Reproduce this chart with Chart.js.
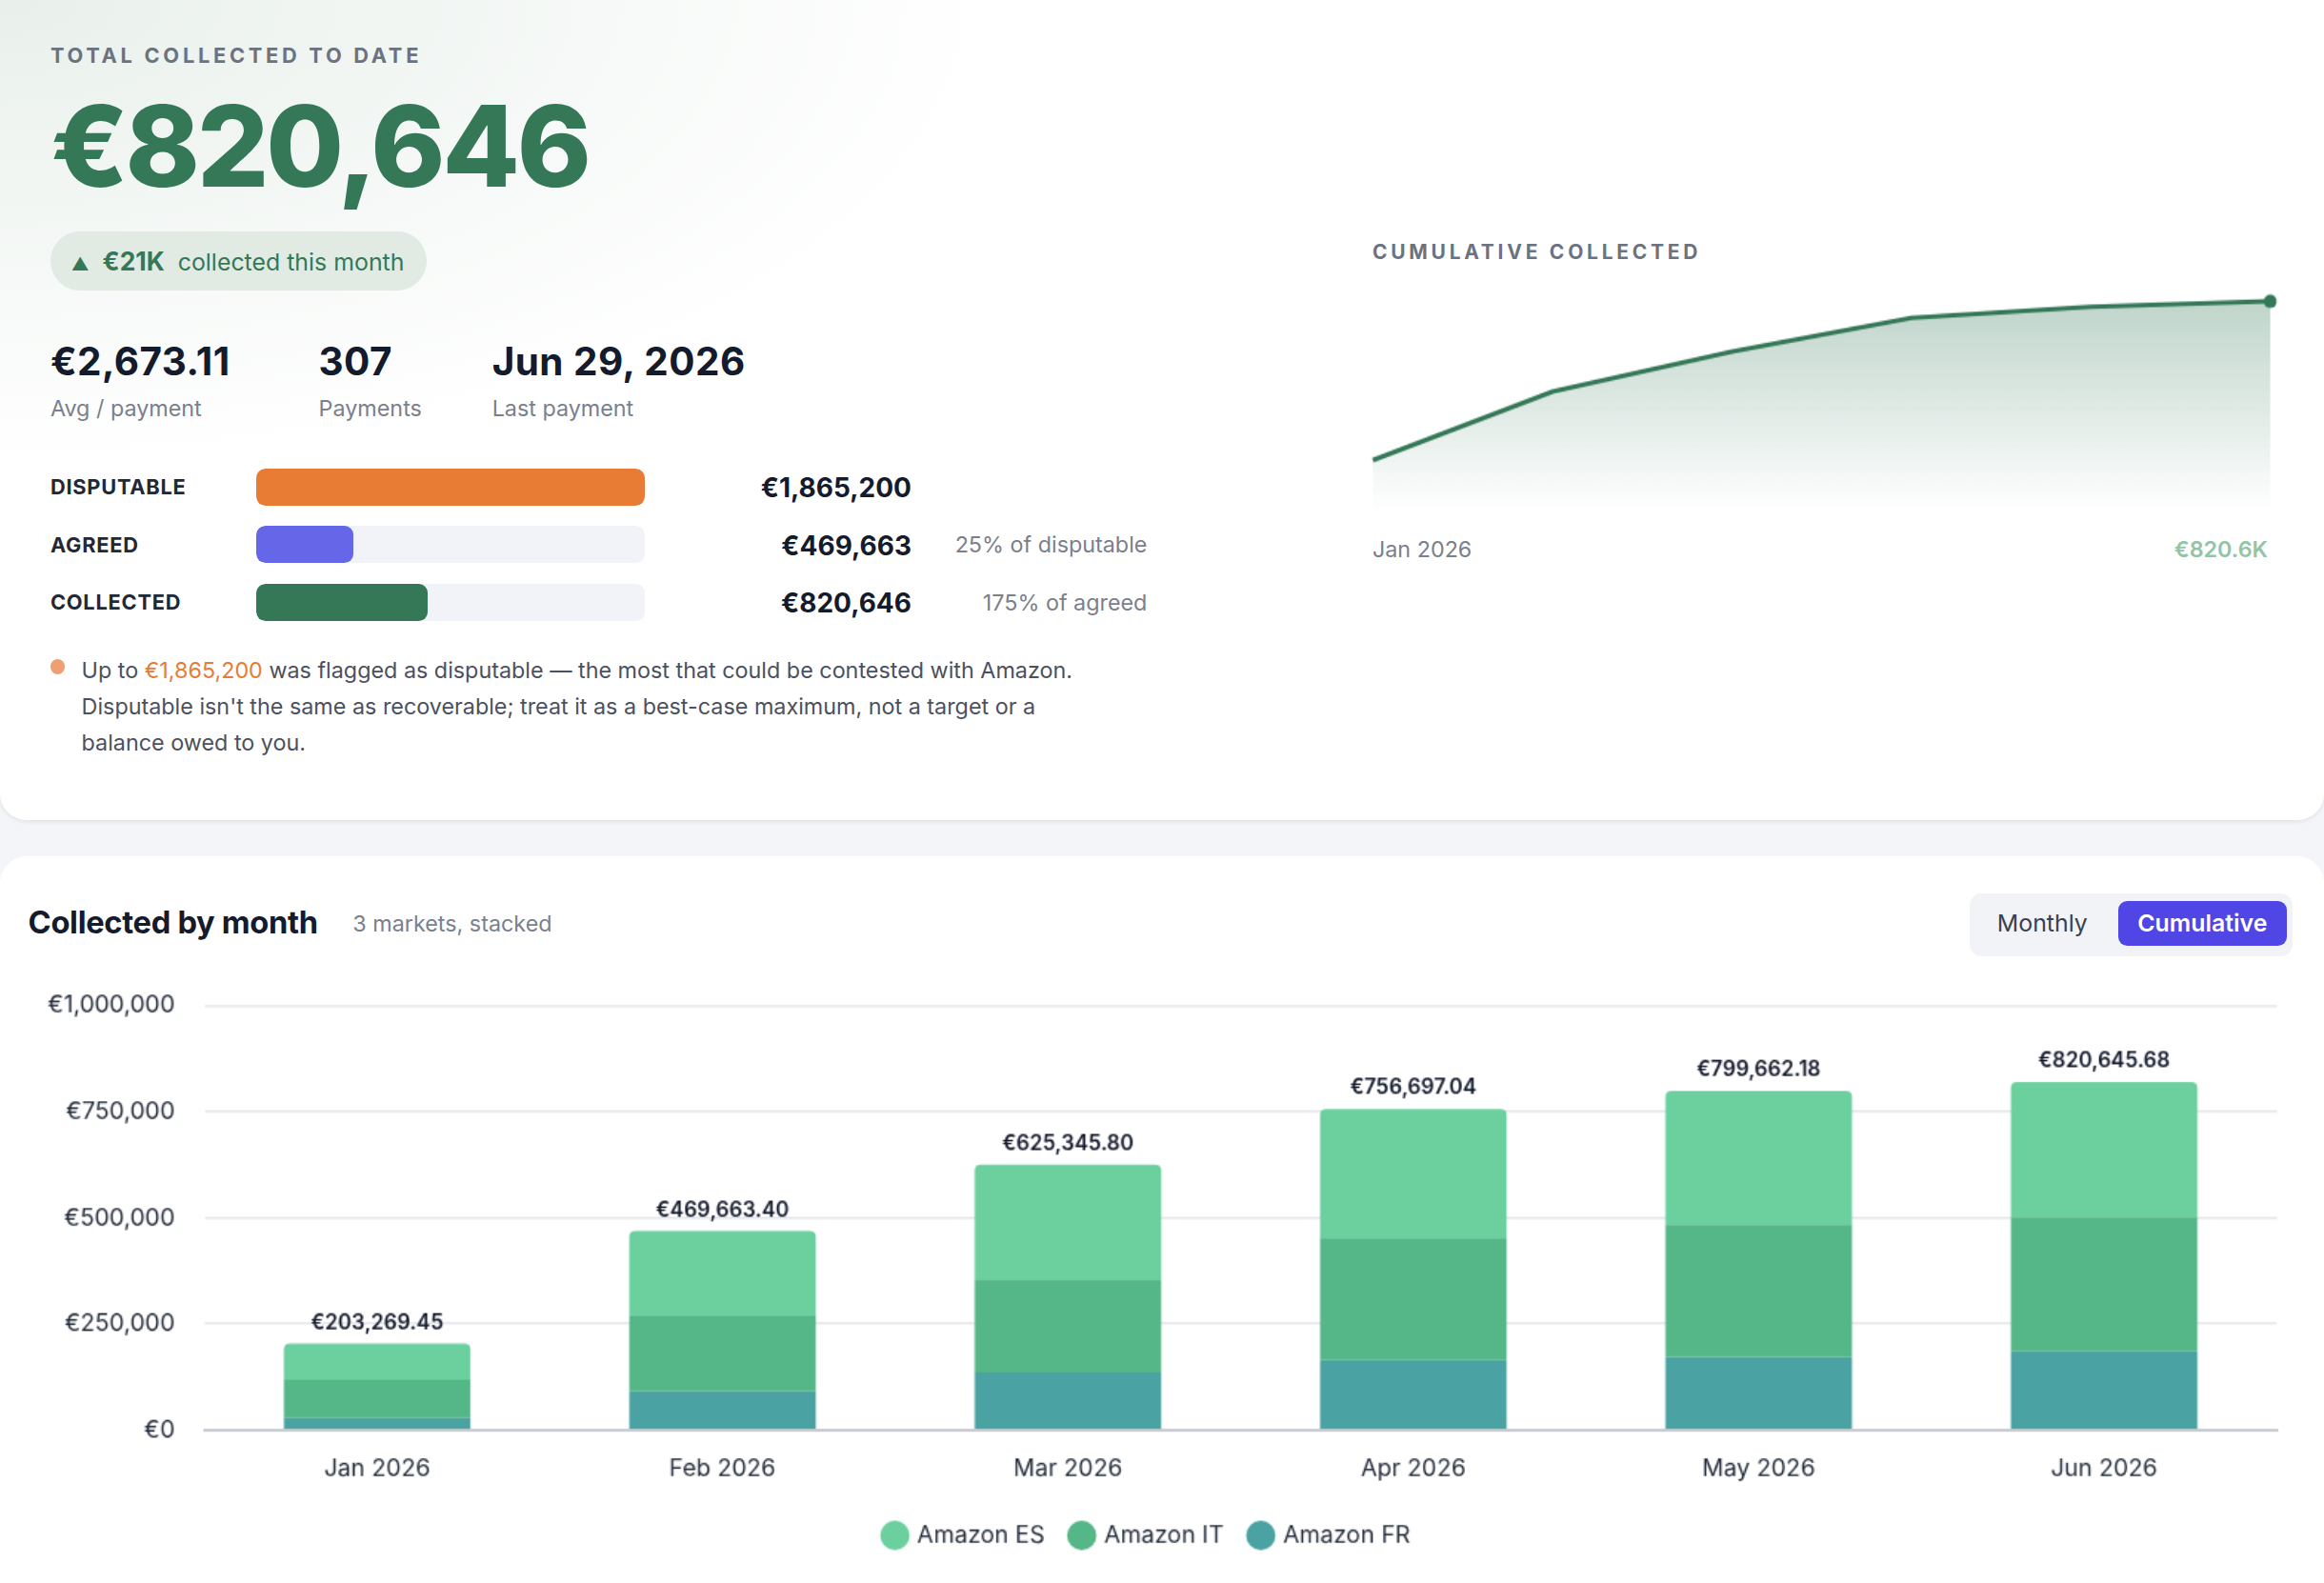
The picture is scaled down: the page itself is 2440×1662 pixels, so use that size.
<!DOCTYPE html>
<html>
<head>
<meta charset="utf-8">
<script src="https://cdn.jsdelivr.net/npm/chart.js@4"></script>
<style>
  html, body { margin: 0; padding: 0; background: #f4f5f8; }
  body { font-family: Inter, "Noto Sans", sans-serif; color: #141b2d; zoom: 1.5561; width: 1568px; height: 1068px; overflow: hidden; }
  .top { position: absolute; left: 0; top: 0; width: 1568px; height: 553px; background: radial-gradient(ellipse 900px 420px at 0 0, #e9f0eb 0%, #f6f9f7 45%, #ffffff 75%); border-radius: 0 0 18px 18px; box-shadow: 0 1px 3px rgba(0,0,0,0.08); }
  .bottom { position: absolute; left: 0; top: 578px; width: 1568px; height: 500px; background: #fff; border-radius: 18px 18px 0 0; }
  .abs { position: absolute; white-space: nowrap; }
  .eyebrow { font-size: 14px; font-weight: 700; letter-spacing: 2.4px; color: #6b7280; }
  .big { font-size: 76px; font-weight: 800; color: #347857; letter-spacing: -2px; }
  .pill { background: #e1ebe4; border-radius: 20px; height: 40px; width: 254px; font-size: 16px; color: #347857; line-height: 40px; padding-left: 14px; box-sizing: border-box; }
  .stat { font-size: 26px; font-weight: 700; letter-spacing: 0.3px; }
  .sub { font-size: 15px; color: #7a808c; }
  .blabel { font-size: 14px; font-weight: 700; letter-spacing: 0.5px; color: #1f2937; }
  .track { width: 262px; height: 25px; background: #f1f3f8; border-radius: 6px; overflow: hidden; }
  .fill { height: 100%; border-radius: 6px; }
  .amt { font-size: 18px; font-weight: 700; text-align: right; width: 150px; }
  .pct { font-size: 15px; color: #7a808c; text-align: right; width: 140px; }
  .note { font-size: 15px; color: #4b5160; line-height: 24.5px; white-space: normal; width: 700px; }
  .toggle { background: #f1f3f7; border-radius: 8px; height: 42px; width: 218px; }
  .tbtn { position: absolute; top: 5px; height: 30px; line-height: 30px; font-size: 16px; border-radius: 6px; text-align: center; }
</style>
</head>
<body>
<div class="top"></div>
<div class="bottom"></div>

<div class="abs eyebrow" style="left:34px;top:29px">TOTAL COLLECTED TO DATE</div>
<div class="abs big" style="left:34px;top:52px">€820,646</div>
<div class="abs pill" style="left:34px;top:156px"><span style="font-size:12px">▲</span>&nbsp; <b style="font-size:17px">€21K</b>&nbsp; collected this month</div>

<div class="abs stat" style="left:34px;top:228px">€2,673.11</div>
<div class="abs sub" style="left:34px;top:266px">Avg / payment</div>
<div class="abs stat" style="left:215px;top:228px">307</div>
<div class="abs sub" style="left:215px;top:266px">Payments</div>
<div class="abs stat" style="left:332px;top:228px">Jun 29, 2026</div>
<div class="abs sub" style="left:332px;top:266px">Last payment</div>

<div class="abs blabel" style="left:34px;top:320px">DISPUTABLE</div>
<div class="abs track" style="left:173px;top:316px"><div class="fill" style="width:100%;background:#e87c35"></div></div>
<div class="abs amt" style="left:465px;top:318px">€1,865,200</div>

<div class="abs blabel" style="left:34px;top:359px">AGREED</div>
<div class="abs track" style="left:173px;top:355px"><div class="fill" style="width:25%;background:#6666e8"></div></div>
<div class="abs amt" style="left:465px;top:357px">€469,663</div>
<div class="abs pct" style="left:634px;top:358px">25% of disputable</div>

<div class="abs blabel" style="left:34px;top:398px">COLLECTED</div>
<div class="abs track" style="left:173px;top:394px"><div class="fill" style="width:44%;background:#347857"></div></div>
<div class="abs amt" style="left:465px;top:396px">€820,646</div>
<div class="abs pct" style="left:634px;top:397px">175% of agreed</div>

<div class="abs" style="left:34px;top:445px;width:10px;height:10px;border-radius:5px;background:#f0a070"></div>
<div class="abs note" style="left:55px;top:440px">Up to <span style="color:#e87c35">€1,865,200</span> was flagged as disputable — the most that could be contested with Amazon. Disputable isn't the same as recoverable; treat it as a best-case maximum, not a target or a balance owed to you.</div>

<div class="abs eyebrow" style="left:926px;top:162px;font-size:13.5px;letter-spacing:2.4px">CUMULATIVE COLLECTED</div>
<div class="abs" style="left:920px;top:190px;width:620px;height:160px"><canvas id="spark"></canvas></div>
<div class="abs sub" style="left:926px;top:361px">Jan 2026</div>
<div class="abs" style="left:1467px;top:361px;font-size:15px;font-weight:600;color:#93c4a8">€820.6K</div>

<div class="abs" style="left:19px;top:609px;font-size:21px;font-weight:700;letter-spacing:-0.2px">Collected by month</div>
<div class="abs sub" style="left:238px;top:614px">3 markets, stacked</div>
<div class="abs toggle" style="left:1329px;top:603px">
  <div class="tbtn" style="left:6px;width:86px;color:#374151">Monthly</div>
  <div class="tbtn" style="left:100px;width:114px;background:#4f46e5;color:#fff;font-weight:600">Cumulative</div>
</div>
<div class="abs" style="left:12px;top:649px;width:1534px;height:405px"><canvas id="bars"></canvas></div>

<script>
const months = ['Jan 2026', 'Feb 2026', 'Mar 2026', 'Apr 2026', 'May 2026', 'Jun 2026'];
const amazonFR = [28000, 91000, 136000, 164000, 171000, 185000];
const amazonIT = [90000, 177000, 219000, 289000, 313000, 317000];
const amazonES = [85269.45, 201663.40, 270345.80, 303697.04, 315662.18, 318645.68];
const totals = [203269.45, 469663.40, 625345.80, 756697.04, 799662.18, 820645.68];
const yTicks = [0, 250000, 500000, 750000, 1000000];

Chart.defaults.font.family = 'Inter, "Noto Sans", sans-serif';
Chart.defaults.animation = false;

// Sparkline
const sctx = document.getElementById('spark').getContext('2d');
const grad = sctx.createLinearGradient(0, 10, 0, 155);
grad.addColorStop(0, 'rgba(52,120,87,0.32)');
grad.addColorStop(1, 'rgba(52,120,87,0)');
new Chart(sctx, {
  type: 'line',
  data: {
    labels: months,
    datasets: [{
      data: totals,
      borderColor: '#347857',
      borderWidth: 3,
      backgroundColor: grad,
      fill: 'start',
      tension: 0,
      pointRadius: totals.map((v, i) => i === totals.length - 1 ? 4.5 : 0),
      pointBackgroundColor: '#347857',
      pointBorderWidth: 0
    }]
  },
  options: {
    responsive: true,
    maintainAspectRatio: false,
    layout: { padding: { left: 6, right: 8, top: 8, bottom: 0 } },
    plugins: { legend: { display: false }, tooltip: { enabled: false } },
    scales: {
      x: { display: false },
      y: { display: false, min: 0, max: 850000 }
    }
  }
});

// Labels above stacked bars
const totalLabels = {
  id: 'totalLabels',
  afterDatasetsDraw(chart) {
    const ctx = chart.ctx;
    const meta = chart.getDatasetMeta(2);
    ctx.save();
    ctx.font = '600 14px Inter, "Noto Sans", sans-serif';
    ctx.fillStyle = '#141b2d';
    ctx.textAlign = 'center';
    ctx.textBaseline = 'bottom';
    meta.data.forEach((bar, i) => {
      const txt = '€' + totals[i].toLocaleString('en-US', { minimumFractionDigits: 2, maximumFractionDigits: 2 });
      ctx.fillText(txt, bar.x, bar.y - 7);
    });
    ctx.restore();
  }
};

new Chart(document.getElementById('bars'), {
  type: 'bar',
  data: {
    labels: months,
    datasets: [
      { label: 'Amazon FR', data: amazonFR, backgroundColor: '#4aa3a2' },
      { label: 'Amazon IT', data: amazonIT, backgroundColor: '#55b787' },
      { label: 'Amazon ES', data: amazonES, backgroundColor: '#6bd09e',
        borderRadius: { topLeft: 4, topRight: 4 }, borderSkipped: false }
    ]
  },
  options: {
    responsive: true,
    maintainAspectRatio: false,
    layout: { padding: { top: 0, right: 10 } },
    datasets: { bar: { categoryPercentage: 0.9, barPercentage: 0.6 } },
    plugins: {
      tooltip: { enabled: false },
      legend: {
        position: 'bottom',
        reverse: true,
        labels: {
          usePointStyle: true, pointStyle: 'circle', boxWidth: 14, boxHeight: 14,
          padding: 18, color: '#1f2937', font: { size: 16 }
        }
      }
    },
    scales: {
      x: {
        stacked: true,
        grid: { display: false },
        border: { color: '#c8cbd0', width: 2 },
        ticks: { color: '#1f2937', font: { size: 16 }, padding: 9 }
      },
      y: {
        stacked: true,
        min: 0, max: 1000000,
        afterBuildTicks: axis => { axis.ticks = yTicks.map(v => ({ value: v })); },
        grid: { color: '#e5e7eb', lineWidth: 1.5, drawTicks: false },
        border: { display: false },
        ticks: { color: '#1f2937', font: { size: 16 }, padding: 20,
          callback: v => '€' + Number(v).toLocaleString('en-US') }
      }
    }
  },
  plugins: [totalLabels]
});
</script>
</body>
</html>
